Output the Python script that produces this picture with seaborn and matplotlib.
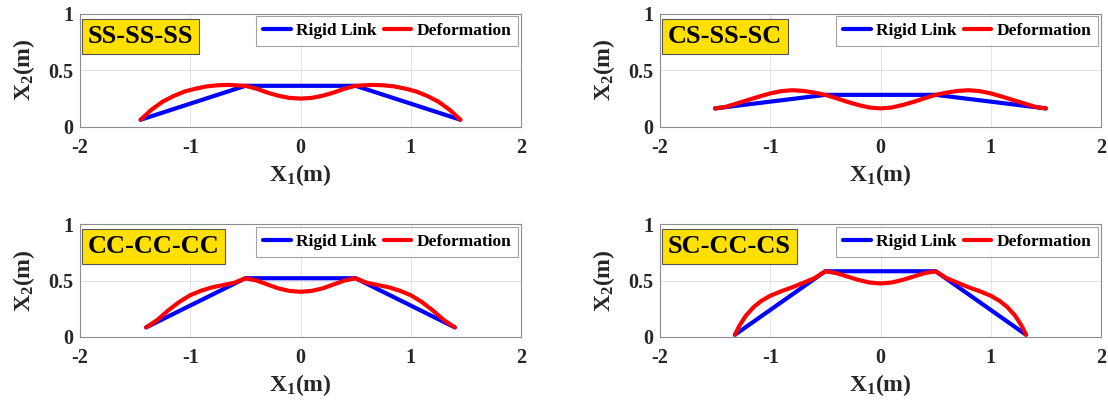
import matplotlib
matplotlib.use("Agg")
import matplotlib.pyplot as plt
import seaborn as sns
import pandas as pd

# Boundary-condition cases shown in the four panels
cases = ["SS-SS-SS", "CS-SS-SC", "CC-CC-CC", "SC-CC-CS"]

# Rigid-link polylines (x1, x2) in metres
link_x_ss = [-1.45, -0.5, 0.5, 1.45]
link_y_ss = [0.06, 0.36, 0.36, 0.06]
link_x_cs = [-1.5, -0.5, 0.5, 1.5]
link_y_cs = [0.16, 0.28, 0.28, 0.16]
link_x_cc = [-1.4, -0.5, 0.5, 1.4]
link_y_cc = [0.085, 0.52, 0.52, 0.085]
link_x_sc = [-1.32, -0.5, 0.5, 1.32]
link_y_sc = [0.02, 0.582, 0.582, 0.02]

# Deformed shapes (x1, x2) in metres
def_x_ss = [-1.45, -1.35, -1.25, -1.15, -1.05, -0.95, -0.85, -0.75, -0.65, -0.5,
            -0.4, -0.3, -0.2, -0.1, 0.0, 0.1, 0.2, 0.3, 0.4,
            0.5, 0.65, 0.75, 0.85, 0.95, 1.05, 1.15, 1.25, 1.35, 1.45]
def_y_ss = [0.06, 0.15, 0.22, 0.27, 0.31, 0.335, 0.355, 0.365, 0.368, 0.36,
            0.335, 0.30, 0.272, 0.253, 0.247, 0.253, 0.272, 0.30, 0.335,
            0.36, 0.368, 0.365, 0.355, 0.335, 0.31, 0.27, 0.22, 0.15, 0.06]

def_x_cs = [-1.5, -1.4, -1.3, -1.2, -1.1, -1.0, -0.9, -0.8, -0.7, -0.6, -0.5,
            -0.4, -0.3, -0.2, -0.1, 0.0, 0.1, 0.2, 0.3, 0.4,
            0.5, 0.6, 0.7, 0.8, 0.9, 1.0, 1.1, 1.2, 1.3, 1.4, 1.5]
def_y_cs = [0.16, 0.175, 0.205, 0.235, 0.265, 0.293, 0.313, 0.321, 0.315, 0.30, 0.28,
            0.25, 0.218, 0.19, 0.168, 0.16, 0.168, 0.19, 0.218, 0.25,
            0.28, 0.30, 0.315, 0.321, 0.313, 0.293, 0.265, 0.235, 0.205, 0.175, 0.16]

def_x_cc = [-1.4, -1.3, -1.2, -1.1, -1.0, -0.9, -0.8, -0.7, -0.6, -0.5,
            -0.4, -0.3, -0.2, -0.1, 0.0, 0.1, 0.2, 0.3, 0.4,
            0.5, 0.6, 0.7, 0.8, 0.9, 1.0, 1.1, 1.2, 1.3, 1.4]
def_y_cc = [0.085, 0.15, 0.235, 0.31, 0.37, 0.41, 0.44, 0.46, 0.48, 0.52,
            0.50, 0.465, 0.43, 0.408, 0.40, 0.408, 0.43, 0.465, 0.50,
            0.52, 0.48, 0.46, 0.44, 0.41, 0.37, 0.31, 0.235, 0.15, 0.085]

def_x_sc = [-1.32, -1.28, -1.22, -1.15, -1.08, -1.0, -0.9, -0.8, -0.7, -0.6, -0.5,
            -0.4, -0.3, -0.2, -0.1, 0.0, 0.1, 0.2, 0.3, 0.4,
            0.5, 0.6, 0.7, 0.8, 0.9, 1.0, 1.08, 1.15, 1.22, 1.28, 1.32]
def_y_sc = [0.02, 0.10, 0.19, 0.265, 0.32, 0.365, 0.405, 0.44, 0.48, 0.52, 0.582,
            0.565, 0.535, 0.505, 0.482, 0.474, 0.482, 0.505, 0.535, 0.565,
            0.582, 0.52, 0.48, 0.44, 0.405, 0.365, 0.32, 0.265, 0.19, 0.10, 0.02]

x_ticks = [-2, -1, 0, 1, 2]
x_tick_labels = ["-2", "-1", "0", "1", "2"]
y_ticks = [0, 0.5, 1]
y_tick_labels = ["0", "0.5", "1"]

links = [(link_x_ss, link_y_ss), (link_x_cs, link_y_cs),
         (link_x_cc, link_y_cc), (link_x_sc, link_y_sc)]
deforms = [(def_x_ss, def_y_ss), (def_x_cs, def_y_cs),
           (def_x_cc, def_y_cc), (def_x_sc, def_y_sc)]

sns.set_theme(style="white")
plt.rcParams.update({
    "font.family": ["Liberation Serif", "DejaVu Serif"],
    "font.weight": "bold",
    "axes.labelweight": "bold",
    "axes.unicode_minus": False,
    "mathtext.fontset": "custom",
    "mathtext.rm": "Liberation Serif:bold",
    "mathtext.it": "Liberation Serif:bold",
    "mathtext.bf": "Liberation Serif:bold",
})

fig = plt.figure(figsize=(11.08, 4.05), dpi=100)
W, H = 1108.0, 405.0
col_left = [80 / W, 660 / W]
row_bottom = [1 - 126.5 / H, 1 - 337 / H]
ax_w, ax_h = 441 / W, 113 / H

spine_col = "#8c8c8c"
text_col = "#262626"

for i, name in enumerate(cases):
    r, c = divmod(i, 2)
    ax = fig.add_axes([col_left[c], row_bottom[r], ax_w, ax_h])

    lx, ly = links[i]
    dx, dy = deforms[i]
    df_link = pd.DataFrame({"x1": lx, "x2": ly})
    df_def = pd.DataFrame({"x1": dx, "x2": dy})

    sns.lineplot(data=df_link, x="x1", y="x2", sort=False, estimator=None,
                 color="#0000ff", linewidth=3.0, ax=ax, label="Rigid Link")
    sns.lineplot(data=df_def, x="x1", y="x2", sort=False, estimator=None,
                 color="#ff0000", linewidth=3.0, ax=ax, label="Deformation")

    ax.set_xlim(-2, 2)
    ax.set_ylim(0, 1)
    ax.set_xticks(x_ticks)
    ax.set_xticklabels(x_tick_labels)
    ax.set_yticks(y_ticks)
    ax.set_yticklabels(y_tick_labels)
    ax.tick_params(axis="both", direction="in", length=3, width=0.6,
                   color=spine_col, labelsize=14.5, labelcolor=text_col)
    ax.tick_params(axis="x", pad=8)
    ax.tick_params(axis="y", pad=5)
    for lab in ax.get_xticklabels() + ax.get_yticklabels():
        lab.set_fontweight("bold")
    ax.grid(True, color="#e3e3e3", linewidth=0.7)
    ax.set_axisbelow(True)
    for sp in ax.spines.values():
        sp.set_color(spine_col)
        sp.set_linewidth(0.8)

    ax.set_xlabel(r"X$_1$(m)", fontsize=17, color=text_col, labelpad=3)
    ax.set_ylabel(r"X$_2$(m)", fontsize=17, color=text_col, labelpad=8)

    leg = ax.legend(loc="upper right", ncol=2, fontsize=12.5, frameon=True,
                    fancybox=False, borderaxespad=0.15, handlelength=1.6,
                    handletextpad=0.3, columnspacing=0.4, borderpad=0.4)
    leg.get_frame().set_edgecolor(spine_col)
    leg.get_frame().set_linewidth(0.8)
    for t in leg.get_texts():
        t.set_fontweight("bold")
        t.set_color("black")
    for h in leg.get_lines():
        h.set_linewidth(3.0)

    ax.text(0.018, 0.9, name, transform=ax.transAxes, ha="left", va="top",
            fontsize=19, fontweight="bold", color="black",
            bbox=dict(boxstyle="square,pad=0.22", facecolor="#ffe000",
                      edgecolor="#555555", linewidth=0.8))

fig.savefig("out.png", dpi=100)
